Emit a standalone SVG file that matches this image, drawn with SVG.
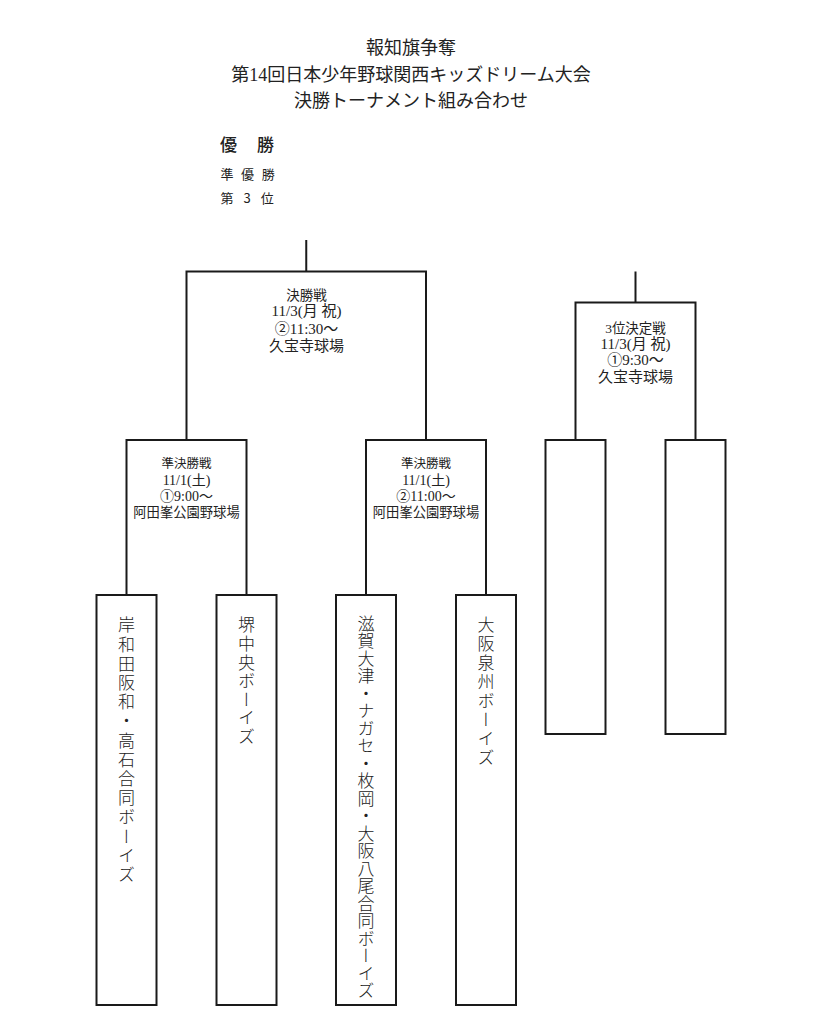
<svg xmlns="http://www.w3.org/2000/svg" width="827" height="1024" viewBox="0 0 827 1024">
<style>
.ln{fill:none;stroke:#1a1a1a;stroke-width:2}
.box{fill:#fff;stroke:#1a1a1a;stroke-width:2}
.t{font-family:"Liberation Serif","Noto Sans CJK JP",serif;fill:#222;text-anchor:middle}
.lab{font-family:"Noto Sans CJK JP",sans-serif;fill:#222}
.team{font-family:"Noto Sans CJK JP",sans-serif;font-size:17px;font-weight:300;fill:#222;writing-mode:vertical-rl;text-anchor:start}
</style>
<rect width="827" height="1024" fill="#fff"/>
<g id="title">
<text class="t" x="411" y="53.5" font-size="18">報知旗争奪</text>
<text class="t" x="411" y="81" font-size="18">第14回日本少年野球関西キッズドリーム大会</text>
<text class="t" x="411" y="107" font-size="18">決勝トーナメント組み合わせ</text>
</g>
<g id="ranking">
<text class="lab" x="220" y="151" font-size="17" font-weight="500" letter-spacing="20">優勝</text>
<text class="lab" x="220.5" y="179" font-size="13" letter-spacing="7.6">準優勝</text>
<text class="lab" x="220.5" y="203" font-size="13" letter-spacing="10">第3位</text>
</g>
<g id="connectors">
<path class="ln" d="M306.25,240 V271.5 M186.5,440 V271.5 H426 V440"/>
<path class="ln" d="M126.5,595 V440 H246.5 V595"/>
<path class="ln" d="M366,595 V440 H486 V595"/>
<path class="ln" d="M635.5,271.5 V302.5 M575.5,440 V302.5 H695.5 V440"/>
</g>
<g id="final-label">
<text class="t" x="306.5" y="300" font-size="13.5">決勝戦</text>
<text class="t" x="306.5" y="315.5" font-size="15">11/3(月 祝)</text>
<text class="t" x="306.5" y="333.5" font-size="15">②11:30～</text>
<text class="t" x="306.5" y="350.5" font-size="15">久宝寺球場</text>
</g>
<g id="semi1-label">
<text class="t" x="186.5" y="468" font-size="12.5">準決勝戦</text>
<text class="t" x="186.5" y="485.3" font-size="14">11/1(土)</text>
<text class="t" x="186.5" y="501.3" font-size="14">①9:00～</text>
<text class="t" x="186.5" y="516.8" font-size="13.3">阿田峯公園野球場</text>
</g>
<g id="semi2-label">
<text class="t" x="426" y="468" font-size="12.5">準決勝戦</text>
<text class="t" x="426" y="485.3" font-size="14">11/1(土)</text>
<text class="t" x="426" y="501.3" font-size="14">②11:00～</text>
<text class="t" x="426" y="516.8" font-size="13.3">阿田峯公園野球場</text>
</g>
<g id="third-label">
<text class="t" x="635.5" y="333.3" font-size="13.5">3位決定戦</text>
<text class="t" x="635.5" y="348.8" font-size="15">11/3(月 祝)</text>
<text class="t" x="635.5" y="364.8" font-size="15">①9:30～</text>
<text class="t" x="635.5" y="382" font-size="15">久宝寺球場</text>
</g>
<g id="team1">
<rect class="box" x="96.5" y="595" width="60" height="410"/>
<text class="team" x="126.5" y="616.5" letter-spacing="2.2">岸和田阪和・高石合同ボーイズ</text>
</g>
<g id="team2">
<rect class="box" x="216.5" y="595" width="60" height="410"/>
<text class="team" x="246.5" y="616.5" letter-spacing="1.6">堺中央ボーイズ</text>
</g>
<g id="team3">
<rect class="box" x="336" y="595" width="60" height="410"/>
<text class="team" x="366" y="615" letter-spacing="0.5">滋賀大津・ナガセ・枚岡・大阪八尾合同ボーイズ</text>
</g>
<g id="team4">
<rect class="box" x="456" y="595" width="60" height="410"/>
<text class="team" x="486" y="616.5" letter-spacing="2">大阪泉州ボーイズ</text>
</g>
<g id="third-slot1">
<rect class="box" x="545.5" y="440" width="60" height="294"/>
</g>
<g id="third-slot2">
<rect class="box" x="665.5" y="440" width="60" height="294"/>
</g>
</svg>
